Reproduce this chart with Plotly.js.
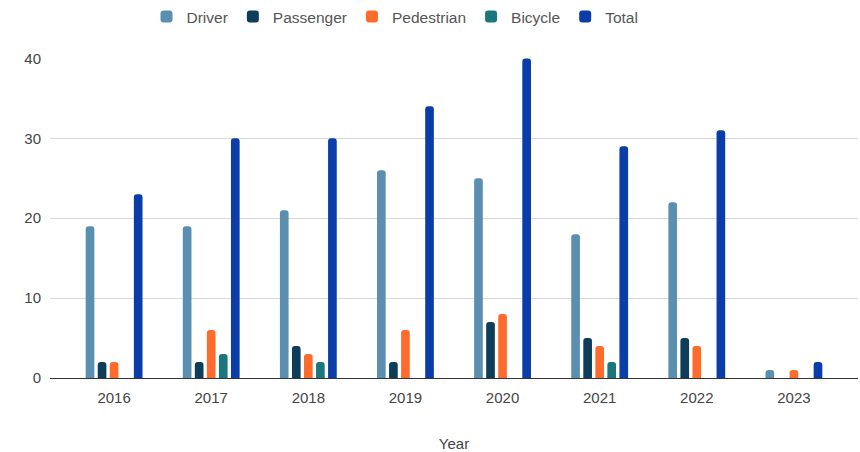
<!DOCTYPE html>
<html><head><meta charset="utf-8">
<script src="https://cdn.plot.ly/plotly-3.0.1.min.js"></script>
<style>html,body{margin:0;padding:0;background:#fff}#chart{width:860px;height:452px}</style>
</head><body><div id="chart"></div>
<script>
const years = ["2016","2017","2018","2019","2020","2021","2022","2023"];
const driver = [19,19,21,26,25,18,22,1];
const passenger = [2,2,4,2,7,5,5,0];
const pedestrian = [2,6,3,6,8,4,4,1];
const bicycle = [0,3,2,0,0,2,0,0];
const total = [23,30,30,34,40,29,31,2];
const names = ["Driver","Passenger","Pedestrian","Bicycle","Total"];
const colors = ["#5a8fb0","#0d3d58","#ff6b2c","#1c767d","#0b3da8"];
const series = [driver,passenger,pedestrian,bicycle,total];
const traces = series.map((s,i)=>({type:"bar",name:names[i],x:years,y:s,marker:{color:colors[i],cornerradius:3}}));
Plotly.newPlot("chart",traces,{
  width:860,height:452,
  margin:{l:50,r:2,t:58,b:74,autoexpand:false},
  barmode:"group",bargap:0.38,bargroupgap:0.28,
  font:{family:"Liberation Sans, Arial, sans-serif",size:15,color:"#444"},
  legend:{orientation:"h",x:0.427,xanchor:"center",y:1.128,yanchor:"middle",font:{size:15.5,color:"#555"},itemwidth:30,traceorder:"normal"},
  xaxis:{type:"category",range:[-0.66,7.66],showgrid:false,ticks:"",title:{text:"Year",font:{size:15,color:"#444"},standoff:33},tickfont:{size:15,color:"#444"},ticklabelstandoff:9,zeroline:false,showline:false,automargin:false},
  yaxis:{range:[0,40.05],tickvals:[0,10,20,30,40],gridcolor:"#d9d9d9",zeroline:true,zerolinecolor:"#333",zerolinewidth:1,tickfont:{size:15,color:"#444"},ticklabelstandoff:8,automargin:false},
  plot_bgcolor:"#fff",paper_bgcolor:"#fff"
},{displayModeBar:false});
</script></body></html>
